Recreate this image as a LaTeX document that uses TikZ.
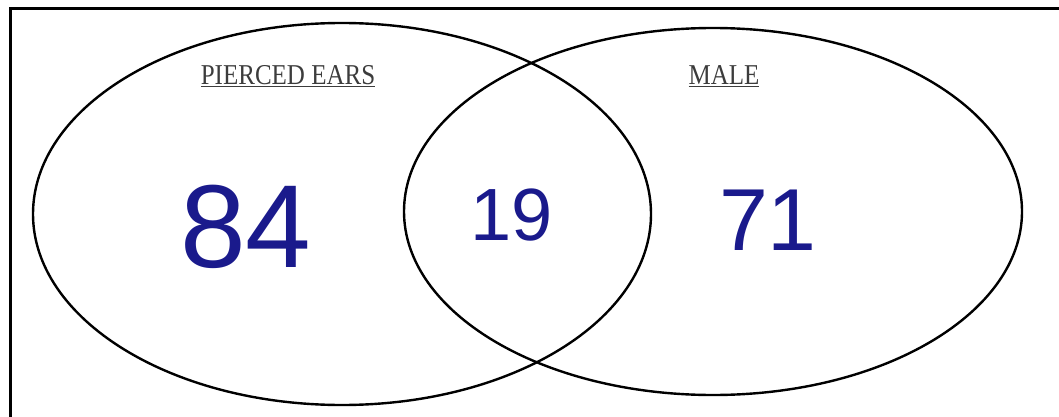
\documentclass[tikz,border=0pt]{standalone}
\usepackage{fontspec}
\setmainfont{Liberation Serif}
\newfontfamily\handfont{Liberation Sans}
\definecolor{ink}{HTML}{1A1A8C}
\definecolor{labelgray}{HTML}{3C3C3C}
\begin{document}
\begin{tikzpicture}[x=1pt,y=-1pt,
  setline/.style={draw=black,line width=2.4pt},
  framebox/.style={draw=black,line width=3pt},
  setlabel/.style={text=labelgray,font=\fontsize{25}{25}\selectfont,inner sep=0pt},
  count/.style={text=ink,inner sep=0pt}]
\useasboundingbox (0,0) rectangle (1059,417);
\begin{scope}
\clip (0,0) rectangle (1059,417);
\draw[framebox] (10,8.5) rectangle (1080,440);
\end{scope}
\draw[setline] (342,214) ellipse [x radius=309, y radius=191];
\draw[setline] (713,211.5) ellipse [x radius=309, y radius=183.5];
\node[setlabel] (pe) at (288,76) {\scalebox{1}[1.15]{\underline{PIERCED EARS}}};
\node[setlabel] (male) at (724,76) {\scalebox{1}[1.15]{\underline{MALE}}};
\node[count,font=\handfont\fontsize{118}{118}\selectfont] (n84) at (246,227) {84};
\node[count,font=\handfont\fontsize{74}{74}\selectfont] (n19) at (512,215) {19};
\node[count,font=\handfont\fontsize{88}{88}\selectfont] (n71) at (768,220) {71};
\end{tikzpicture}
\end{document}
